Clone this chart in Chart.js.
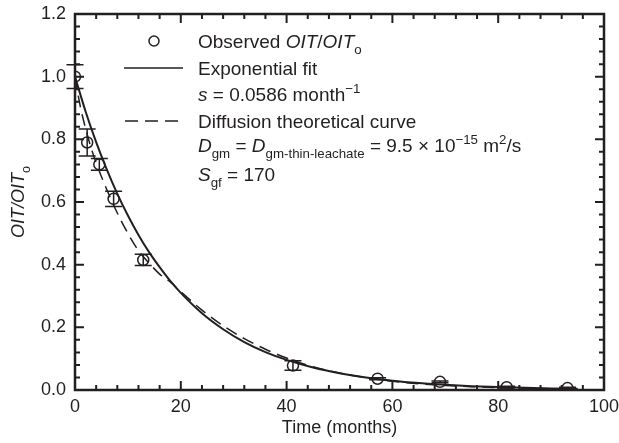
<!DOCTYPE html>
<html>
<head>
<meta charset="utf-8">
<title>OIT depletion</title>
<script src="https://cdn.jsdelivr.net/npm/chart.js@4"></script>
<style>
  html, body { margin: 0; padding: 0; background: #fff; }
  #wrap { width: 619px; height: 443px; }
</style>
</head>
<body>
<div id="wrap"><canvas id="chart" width="619" height="443"></canvas></div>
<script>
// observed OIT/OIT_o with error bars
const obsT = [0, 2.3, 4.6, 7.3, 12.9, 41.2, 57.2, 69.0, 81.6, 93.1];
const obsY = [1.0, 0.79, 0.72, 0.61, 0.415, 0.078, 0.036, 0.026, 0.009, 0.006];
const obsErr = [0.038, 0.043, 0.019, 0.024, 0.018, 0.015, 0.003, 0.003, 0.003, 0.003];

// exponential fit, s = 0.0586 month^-1
const fitT = [0, 2, 4, 6, 8, 10, 12, 14, 16, 18, 20, 24, 28, 32, 36, 40, 45, 50, 55, 60, 65, 70, 75, 80, 85, 90, 95];
const fitY = [1.0, 0.889, 0.791, 0.704, 0.626, 0.557, 0.495, 0.44, 0.392, 0.348, 0.31, 0.245, 0.194, 0.153, 0.121,
  0.096, 0.0716, 0.0534, 0.0398, 0.0297, 0.0222, 0.0165, 0.0123, 0.0092, 0.0069, 0.0051, 0.0038];

// diffusion theoretical curve
const diffT = [0, 1, 2, 3, 4, 6, 8, 10, 12, 14, 16, 18, 20, 24, 28, 32, 36, 40, 45, 50, 55, 60, 65, 70, 75, 80, 85, 90, 95];
const diffY = [1.0, 0.905, 0.835, 0.775, 0.725, 0.64, 0.565, 0.5, 0.445, 0.405, 0.37, 0.345, 0.314, 0.255, 0.205,
  0.164, 0.13, 0.102, 0.074, 0.054, 0.039, 0.028, 0.02, 0.0145, 0.0105, 0.0077, 0.0057, 0.0042, 0.0032];

const xTicks = [0, 20, 40, 60, 80, 100];
const yTicks = [0, 0.2, 0.4, 0.6, 0.8, 1.0, 1.2];

const FONT = '"Liberation Sans", Arial, Helvetica, sans-serif';
const INK = '#231f20';

const pts = (xs, ys) => xs.map((x, i) => ({ x, y: ys[i] }));

function drawRich(ctx, x, y, parts, size) {
  for (const p of parts) {
    let fs = size, dy = 0;
    if (p.k === 'sub') { fs = size * 0.7; dy = 6; }
    if (p.k === 'sup') { fs = size * 0.7; dy = -8; }
    ctx.font = (p.i ? 'italic ' : '') + fs + 'px ' + FONT;
    ctx.fillText(p.t, x, y + dy);
    x += ctx.measureText(p.t).width;
  }
  return x;
}

function richWidth(ctx, parts, size) {
  let w = 0;
  for (const p of parts) {
    const fs = p.k ? size * 0.7 : size;
    ctx.font = (p.i ? 'italic ' : '') + fs + 'px ' + FONT;
    w += ctx.measureText(p.t).width;
  }
  return w;
}

const legendRows = [
  { y: 48, sym: 'circle', parts: [{ t: 'Observed ' }, { t: 'OIT', i: 1 }, { t: '/' }, { t: 'OIT', i: 1 }, { t: 'o', k: 'sub' }] },
  { y: 75, sym: 'solid', parts: [{ t: 'Exponential fit' }] },
  { y: 101, parts: [{ t: 's', i: 1 }, { t: ' = 0.0586 month' }, { t: '\u22121', k: 'sup' }] },
  { y: 128, sym: 'dash', parts: [{ t: 'Diffusion theoretical curve' }] },
  { y: 152, parts: [{ t: 'D', i: 1 }, { t: 'gm', k: 'sub' }, { t: ' = ' }, { t: 'D', i: 1 }, { t: 'gm-thin-leachate', k: 'sub' },
    { t: ' = 9.5 \u00d7 10' }, { t: '\u221215', k: 'sup' }, { t: ' m' }, { t: '2', k: 'sup' }, { t: '/s' }] },
  { y: 181, parts: [{ t: 'S', i: 1 }, { t: 'gf', k: 'sub' }, { t: ' = 170' }] },
];

const decor = {
  id: 'decor',
  afterDatasetsDraw(chart) {
    const { ctx, chartArea: a, scales: { x, y } } = chart;
    ctx.save();
    ctx.strokeStyle = INK;
    ctx.fillStyle = INK;

    // error bars
    ctx.lineWidth = 1.5;
    obsT.forEach((t, i) => {
      if (!obsErr[i]) return;
      const px = x.getPixelForValue(t);
      const y1 = y.getPixelForValue(obsY[i] + obsErr[i]);
      const y2 = y.getPixelForValue(obsY[i] - obsErr[i]);
      ctx.beginPath();
      ctx.moveTo(px, y1); ctx.lineTo(px, y2);
      ctx.moveTo(px - 8.5, y1); ctx.lineTo(px + 8.5, y1);
      ctx.moveTo(px - 8.5, y2); ctx.lineTo(px + 8.5, y2);
      ctx.stroke();
    });

    // frame
    ctx.lineWidth = 2.5;
    ctx.strokeRect(a.left, a.top, a.right - a.left, a.bottom - a.top);

    // inward ticks on all sides
    ctx.lineWidth = 2;
    ctx.beginPath();
    for (let k = 0; k <= 25; k++) {
      const px = x.getPixelForValue(k * 4);
      const len = k % 5 === 0 ? 9 : 5;
      ctx.moveTo(px, a.bottom); ctx.lineTo(px, a.bottom - len);
      ctx.moveTo(px, a.top); ctx.lineTo(px, a.top + len);
    }
    for (let k = 0; k <= 30; k++) {
      const py = y.getPixelForValue(k * 0.04);
      const len = k % 5 === 0 ? 9 : 5;
      ctx.moveTo(a.left, py); ctx.lineTo(a.left + len, py);
      ctx.moveTo(a.right, py); ctx.lineTo(a.right - len, py);
    }
    ctx.stroke();

    // y axis title
    const yTitle = [{ t: 'OIT', i: 1 }, { t: '/', i: 1 }, { t: 'OIT', i: 1 }, { t: 'o', k: 'sub' }];
    ctx.save();
    ctx.translate(24, (a.top + a.bottom) / 2);
    ctx.rotate(-Math.PI / 2);
    ctx.textBaseline = 'alphabetic';
    drawRich(ctx, -richWidth(ctx, yTitle, 18) / 2, 0, yTitle, 18);
    ctx.restore();

    // legend
    ctx.textBaseline = 'alphabetic';
    for (const r of legendRows) {
      const cy = r.y - 7;
      if (r.sym === 'circle') {
        ctx.lineWidth = 1.5;
        ctx.beginPath(); ctx.arc(154, cy, 5, 0, Math.PI * 2); ctx.stroke();
      } else if (r.sym === 'solid') {
        ctx.lineWidth = 1.5;
        ctx.beginPath(); ctx.moveTo(124, cy); ctx.lineTo(183, cy); ctx.stroke();
      } else if (r.sym === 'dash') {
        ctx.lineWidth = 1.5;
        ctx.setLineDash([13, 7]);
        ctx.beginPath(); ctx.moveTo(125, cy); ctx.lineTo(179, cy); ctx.stroke();
        ctx.setLineDash([]);
      }
      drawRich(ctx, 198, r.y, r.parts, 19);
    }
    ctx.restore();
  }
};

const noPad = s => { s.paddingTop = 0; s.paddingBottom = 0; s.paddingLeft = 0; s.paddingRight = 0; };

new Chart(document.getElementById('chart'), {
  type: 'scatter',
  data: {
    datasets: [
      {
        label: 'Exponential fit',
        data: pts(fitT, fitY),
        showLine: true,
        borderColor: INK,
        borderWidth: 2,
        pointRadius: 0,
        cubicInterpolationMode: 'monotone',
        order: 3,
      },
      {
        label: 'Diffusion theoretical curve',
        data: pts(diffT, diffY),
        showLine: true,
        borderColor: INK,
        borderWidth: 1.5,
        borderDash: [12, 7],
        pointRadius: 0,
        cubicInterpolationMode: 'monotone',
        order: 2,
      },
      {
        label: 'Observed OIT/OITo',
        data: pts(obsT, obsY),
        showLine: false,
        pointStyle: 'circle',
        pointRadius: 5.5,
        pointBorderWidth: 1.5,
        pointBorderColor: INK,
        pointBackgroundColor: 'rgba(0,0,0,0)',
        order: 1,
      },
    ]
  },
  options: {
    responsive: false,
    animation: false,
    devicePixelRatio: 1,
    layout: { padding: { top: 14, right: 15, left: 0, bottom: 0 } },
    plugins: { legend: { display: false }, tooltip: { enabled: false } },
    scales: {
      x: {
        type: 'linear', min: 0, max: 100,
        afterFit: s => { s.height = 53; noPad(s); },
        afterBuildTicks: s => { s.ticks = xTicks.map(v => ({ value: v })); },
        grid: { display: false, drawTicks: false },
        border: { display: false },
        ticks: { color: INK, padding: 6, autoSkip: false, maxRotation: 0, font: { family: FONT, size: 18 } },
        title: { display: true, text: 'Time (months)', color: INK, padding: { top: 0, bottom: 4 }, font: { family: FONT, size: 18 } },
      },
      y: {
        type: 'linear', min: 0, max: 1.2,
        afterFit: s => { s.width = 75; noPad(s); },
        afterBuildTicks: s => { s.ticks = yTicks.map(v => ({ value: v })); },
        grid: { display: false, drawTicks: false },
        border: { display: false },
        ticks: { color: INK, padding: 9, autoSkip: false, font: { family: FONT, size: 18 }, callback: v => Number(v).toFixed(1) },
      }
    }
  },
  plugins: [decor]
});
</script>
</body>
</html>
